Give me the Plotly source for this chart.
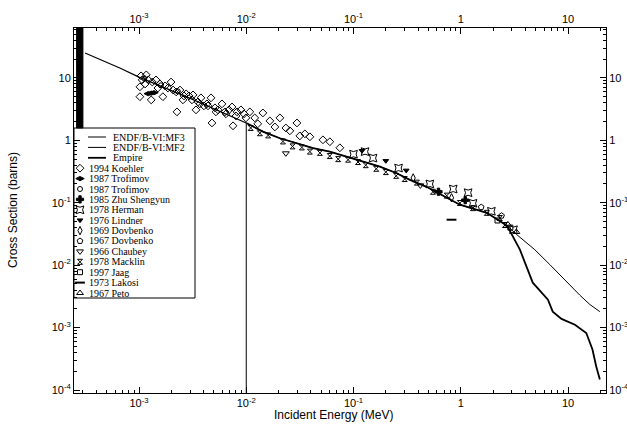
import plotly.graph_objects as go

# ---------------- data ----------------
res_x = [2.62e-4, 3.0e-4]          # dense resonance band (x bounds)
res_y = [1.58, 100.0]              # (y bounds)

mf2_x = [3.14e-4, 6.7e-4, 1.0e-3, 3.0e-3, 1.0e-2]
mf2_y = [25.1, 14.3, 10.3, 4.7, 1.9]

mf3_x = [1.0e-2, 1.0e-2, 1.43e-2, 2.06e-2, 2.96e-2, 4.2e-2, 6.0e-2, 8.6e-2, 0.123, 0.176,
         0.25, 0.335, 0.48, 0.98, 1.75, 2.7, 3.33, 4.9, 6.77, 9.6, 11.2, 12.9, 16.0, 19.8]
mf3_y = [1e-5, 1.9, 1.38, 1.08, 0.90, 0.75, 0.66, 0.55, 0.46, 0.38,
         0.30, 0.233, 0.18, 0.093, 0.069, 0.043, 0.0308, 0.0177, 0.0102, 0.0055, 0.0043, 0.0033, 0.00234, 0.0018]

emp_x = [1.0e-2, 1.43e-2, 2.06e-2, 2.96e-2, 4.2e-2, 6.0e-2, 8.6e-2, 0.123, 0.176, 0.25, 0.335,
         0.48, 0.98, 1.75, 2.7, 3.56, 4.69, 6.5, 7.2, 8.7, 11.6, 14.8, 16.9, 18.3, 19.8]
emp_y = [1.9, 1.38, 1.08, 0.90, 0.75, 0.66, 0.55, 0.46, 0.38, 0.30, 0.233,
         0.18, 0.093, 0.069, 0.043, 0.0177, 5.24e-3, 2.8e-3, 1.8e-3, 1.38e-3, 1.11e-3, 8.2e-4, 4.45e-4, 2.4e-4, 1.47e-4]

koehler_x = [1.045e-3, 1.17e-3, 1.07e-3, 1.02e-3, 1.02e-3, 1.14e-3, 1.30e-3, 1.33e-3, 1.44e-3, 1.50e-3,
             1.67e-3, 1.75e-3, 1.99e-3, 2.08e-3, 2.26e-3, 2.41e-3, 2.57e-3, 2.75e-3, 2.93e-3, 3.19e-3,
             3.40e-3, 3.55e-3, 3.78e-3, 4.03e-3, 4.30e-3, 4.69e-3, 4.79e-3, 5.11e-3, 5.45e-3, 5.94e-3,
             6.33e-3, 6.90e-3, 7.37e-3, 7.53e-3, 8.20e-3, 8.92e-3, 9.51e-3, 1.08e-2, 1.20e-2, 1.43e-2,
             1.66e-2, 2.06e-2, 2.34e-2, 2.97e-2, 3.52e-2, 3.92e-2, 5.19e-2, 3.16e-2,
             1.22e-3, 1.57e-3, 1.86e-3, 2.22e-3, 2.63e-3, 3.12e-3, 3.70e-3, 4.40e-3, 5.22e-3, 6.47e-3,
             8.02e-3, 9.93e-3, 1.28e-2, 1.85e-2, 2.55e-2, 7.46e-2, 6.02e-2]
koehler_y = [10.8, 11.2, 9.3, 7.2, 5.0, 8.0, 4.45, 8.6, 9.3, 6.9,
             5.0, 7.45, 8.6, 6.4, 2.86, 6.4, 4.45, 5.55, 5.15, 5.35,
             3.08, 4.13, 4.8, 3.57, 3.84, 4.8, 1.9, 3.32, 3.08, 3.84,
             2.86, 3.08, 3.43, 1.71, 2.86, 3.08, 2.66, 2.86, 2.29, 2.75,
             2.05, 2.29, 1.58, 1.9, 1.27, 1.14, 1.02, 1.18,
             9.3, 8.0, 6.9, 5.97, 5.15, 4.45, 3.84, 3.57, 2.86, 2.66,
             2.46, 2.29, 1.84, 1.64, 1.42, 0.76, 0.95]

trofimov_a_x = [1.22e-3, 1.30e-3, 1.38e-3]
trofimov_a_y = [5.6, 5.7, 5.8]
trofimov_b_x = [1.12e-3, 1.6e-3, 2.3e-3]
trofimov_b_y = [9.8, 7.6, 6.1]
zhu_x = [0.62, 1.1]
zhu_y = [0.15, 0.11]
herman_x = [0.1, 0.128, 0.152, 0.263, 0.515, 0.85, 1.17, 1.30, 1.93, 3.1]
herman_y = [0.60, 0.66, 0.52, 0.36, 0.20, 0.166, 0.145, 0.098, 0.073, 0.037]
lindner_x = [0.12, 0.20, 0.31]
lindner_y = [0.68, 0.47, 0.33]
dov69_x = [0.36, 0.82]
dov69_y = [0.25, 0.12]
dov67_x = [1.55, 2.4]
dov67_y = [0.085, 0.062]
chaubey_x = [2.34e-2, 0.42]
chaubey_y = [0.62, 0.19]
macklin_x = [1.1e-2, 1.34e-2, 1.6e-2, 2.2e-2, 2.7e-2, 3.3e-2, 3.92e-2, 4.86e-2, 6.0e-2, 7.2e-2,
             8.9e-2, 0.11, 0.13, 0.163, 0.20, 0.25, 0.30, 0.39, 0.55, 0.74, 0.98, 1.30, 1.75, 2.31, 2.58]
macklin_y = [1.58, 1.3, 1.2, 0.96, 0.80, 0.77, 0.66, 0.63, 0.56, 0.50,
             0.49, 0.45, 0.40, 0.35, 0.31, 0.27, 0.24, 0.21, 0.15, 0.13, 0.099, 0.082, 0.069, 0.057, 0.044]
jaag_x = [2.2, 2.9]
jaag_y = [0.052, 0.040]
lakosi_x = [0.82]
lakosi_y = [0.0535]
peto_x = [2.75, 3.3]
peto_y = [0.045, 0.034]

x_ticks = [1e-3, 1e-2, 1e-1, 1, 10]
x_ticktext = ["10<sup>-3</sup>", "10<sup>-2</sup>", "10<sup>-1</sup>", "1", "10"]
y_ticks = [1e-4, 1e-3, 1e-2, 1e-1, 1, 10]
y_ticktext = ["10<sup>-4</sup>", "10<sup>-3</sup>", "10<sup>-2</sup>", "10<sup>-1</sup>", "1", "10"]

line_names = ["ENDF/B-VI:MF3", "ENDF/B-VI:MF2", "Empire"]

series = [
    ("1994 Koehler", koehler_x, koehler_y, "diamond-open", 6),
    ("1987 Trofimov", trofimov_a_x, trofimov_a_y, "diamond-wide", 6),
    ("1987 Trofimov", trofimov_b_x, trofimov_b_y, "circle-open", 5),
    ("1985 Zhu Shengyun", zhu_x, zhu_y, "cross", 6),
    ("1978 Herman", herman_x, herman_y, "star-square-open", 7),
    ("1976 Lindner", lindner_x, lindner_y, "triangle-down", 5),
    ("1969 Dovbenko", dov69_x, dov69_y, "diamond-tall-open", 6),
    ("1967 Dovbenko", dov67_x, dov67_y, "pentagon-open", 6),
    ("1966 Chaubey", chaubey_x, chaubey_y, "triangle-down-open", 6),
    ("1978 Macklin", macklin_x, macklin_y, "hourglass-open", 5),
    ("1997 Jaag", jaag_x, jaag_y, "square-open", 5),
    ("1973 Lakosi", lakosi_x, lakosi_y, "line-ew-open", 7),
    ("1967 Peto", peto_x, peto_y, "triangle-up-open", 6),
]

# ---------------- figure ----------------
fig = go.Figure()

# resonance band
fig.add_trace(go.Scatter(
    x=[res_x[0], res_x[1], res_x[1], res_x[0], res_x[0]],
    y=[res_y[0], res_y[0], res_y[1], res_y[1], res_y[0]],
    fill="toself", fillcolor="black", mode="lines", line=dict(color="black", width=1),
    showlegend=False, hoverinfo="skip"))

fig.add_trace(go.Scatter(x=mf2_x, y=mf2_y, mode="lines", line=dict(color="black", width=1.2),
                         showlegend=False))
fig.add_trace(go.Scatter(x=mf3_x, y=mf3_y, mode="lines", line=dict(color="black", width=1),
                         showlegend=False))
fig.add_trace(go.Scatter(x=emp_x, y=emp_y, mode="lines", line=dict(color="black", width=1.8),
                         showlegend=False))

for name, xs, ys, sym, sz in series:
    lw = 2 if sym.startswith("line") else 1
    fig.add_trace(go.Scatter(x=xs, y=ys, mode="markers", showlegend=False,
                             marker=dict(symbol=sym, size=sz, color="black",
                                         line=dict(color="black", width=lw))))

# dummy trace so top/right axes are drawn
fig.add_trace(go.Scatter(x=mf3_x, y=mf3_y, xaxis="x2", yaxis="y2", mode="lines",
                         line=dict(width=0), opacity=0, showlegend=False, hoverinfo="skip"))

# ---------------- custom legend ----------------
L, R, T, B = 74, 606, 28, 393
def PX(px):
    return (px - L) / (R - L)
def PY(py):
    return (B - py) / (B - T)

shapes = [dict(type="rect", xref="paper", yref="paper", x0=PX(74), x1=PX(195),
               y0=PY(298), y1=PY(128), fillcolor="white", line=dict(color="black", width=1),
               layer="below")]
annotations = []
serif = dict(family="Liberation Serif, Times New Roman, serif", size=10, color="black")
all_names = line_names + [s[0] for s in series]
line_widths = [1, 1, 1.8]
for i, name in enumerate(all_names):
    yy = PY(137 + 10.4 * i)
    if i < 3:
        shapes.append(dict(type="line", xref="paper", yref="paper", x0=PX(88), x1=PX(106),
                           y0=yy, y1=yy, line=dict(color="black", width=line_widths[i])))
        annotations.append(dict(x=PX(111), y=yy, xref="paper", yref="paper", text=name,
                                showarrow=False, xanchor="left", yanchor="middle", font=serif))
    else:
        name_, xs, ys, sym, sz = series[i - 3]
        lw = 2 if sym.startswith("line") else 1
        fig.add_trace(go.Scatter(x=[PX(80)], y=[yy], xaxis="x3", yaxis="y3", mode="markers",
                                 showlegend=False, hoverinfo="skip",
                                 marker=dict(symbol=sym, size=sz, color="black",
                                             line=dict(color="black", width=lw))))
        annotations.append(dict(x=PX(87), y=yy, xref="paper", yref="paper", text=name,
                                showarrow=False, xanchor="left", yanchor="middle", font=serif))

sans = dict(family="Liberation Sans, Arial, sans-serif", size=12, color="black")
annotations.append(dict(x=PX(333), y=PY(415), xref="paper", yref="paper",
                        text="Incident Energy (MeV)", showarrow=False, font=sans,
                        xanchor="center", yanchor="middle"))
annotations.append(dict(x=PX(13), y=PY(210), xref="paper", yref="paper",
                        text="Cross Section (barns)", showarrow=False, font=sans, textangle=-90,
                        xanchor="center", yanchor="middle"))

minor_vals = [d * 10 ** e for e in range(-5, 2) for d in range(2, 10)]
tickfont = dict(family="Liberation Sans, Arial, sans-serif", size=11, color="black")
xr = [-3.606, 1.354]
yr = [-4.048, 1.8]

def xax(**kw):
    d = dict(type="log", range=xr, tickmode="array", tickvals=x_ticks, ticktext=x_ticktext,
             ticks="inside", ticklen=6, tickwidth=1, tickcolor="black", showline=True,
             linecolor="black", linewidth=1, showgrid=False, zeroline=False, tickfont=tickfont,
             automargin=False,
             minor=dict(tickmode="array", tickvals=minor_vals, ticks="inside", ticklen=3,
                        tickcolor="black", showgrid=False))
    d.update(kw)
    return d

def yax(**kw):
    d = dict(type="log", range=yr, tickmode="array", tickvals=y_ticks, ticktext=y_ticktext,
             ticks="inside", ticklen=6, tickwidth=1, tickcolor="black", showline=True,
             linecolor="black", linewidth=1, showgrid=False, zeroline=False, tickfont=tickfont,
             automargin=False,
             minor=dict(tickmode="array", tickvals=minor_vals, ticks="inside", ticklen=3,
                        tickcolor="black", showgrid=False))
    d.update(kw)
    return d

fig.update_layout(
    width=627, height=428,
    margin=dict(l=L, r=627 - R, t=T, b=428 - B, autoexpand=False),
    paper_bgcolor="white", plot_bgcolor="white",
    showlegend=False,
    xaxis=xax(),
    yaxis=yax(),
    xaxis2=xax(side="top", overlaying="x", anchor="y"),
    yaxis2=yax(side="right", overlaying="y", anchor="x"),
    xaxis3=dict(overlaying="x", range=[0, 1], visible=False, anchor="y3", automargin=False),
    yaxis3=dict(overlaying="y", range=[0, 1], visible=False, anchor="x3", automargin=False),
    shapes=shapes,
    annotations=annotations,
)

fig.write_html("out.html", config={"displayModeBar": False},
               post_script="document.body.style.margin='0';document.body.style.overflow='hidden';")
